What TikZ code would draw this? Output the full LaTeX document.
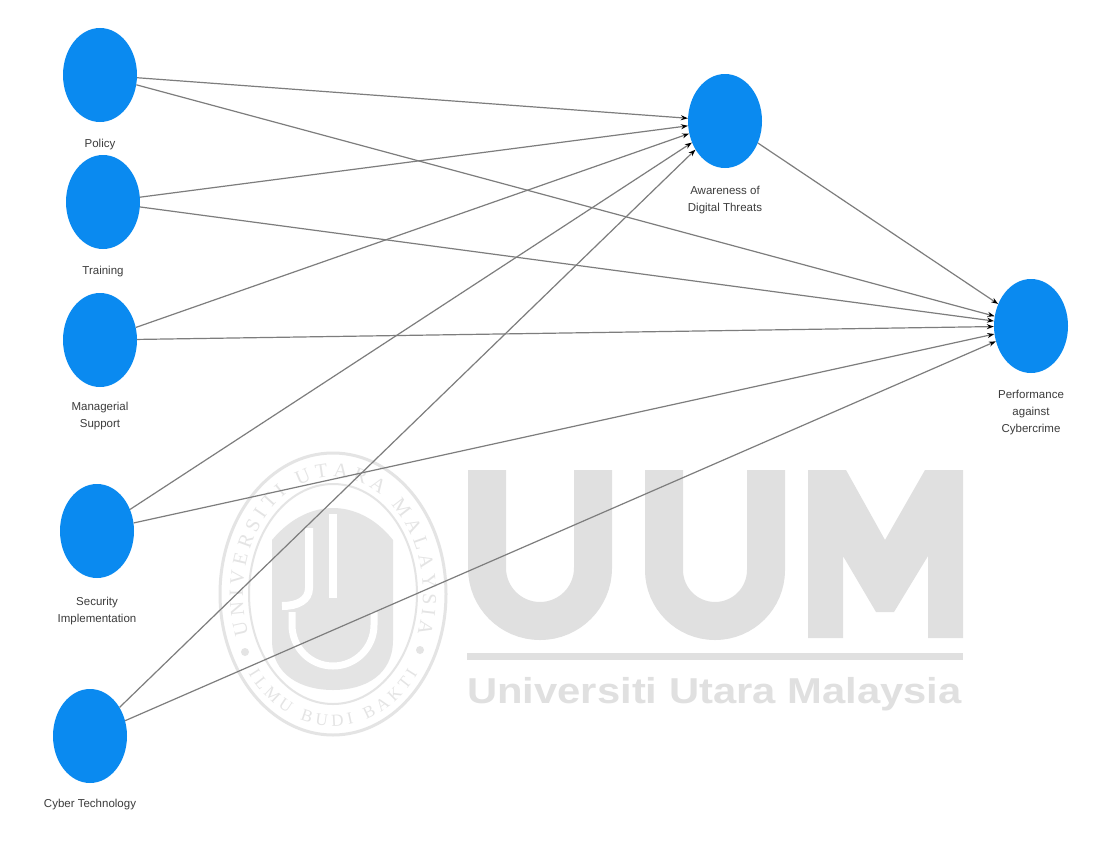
\documentclass[tikz,border=0pt]{standalone}
\usepackage{fontspec}
\setmainfont{Liberation Sans}
\newfontfamily\sealfont{Liberation Serif}
\usetikzlibrary{positioning,shapes.geometric,arrows.meta,decorations.text}
\definecolor{plsblue}{RGB}{10,138,240}
\definecolor{linkgray}{RGB}{125,125,125}
\definecolor{wmgray}{RGB}{224,224,224}
\definecolor{sealgray}{RGB}{228,228,228}
\definecolor{lbltext}{RGB}{60,60,60}
\begin{document}
\begin{tikzpicture}[x=1pt, y=-1pt,
    construct/.style = {ellipse, fill=plsblue, minimum width=74pt, minimum height=94pt, inner sep=0pt},
    conlabel/.style = {font=\fontsize{11.5}{17}\selectfont, text=lbltext, align=center, inner sep=1pt},
    link/.style = {draw=linkgray, line width=1.2pt, -{Stealth[color=black, length=7pt, width=5pt]}}]
                \useasboundingbox[fill=white] (0,0) rectangle (1115,843);
                \draw[sealgray, line width=3pt] (333,594) ellipse[x radius=113, y radius=141];
                \draw[sealgray, line width=2pt] (333,594) ellipse[x radius=84, y radius=110];
                \path[decorate, decoration={text along path, text align={fit to path},
                    text={|\sealfont\fontsize{20}{20}\selectfont\color{sealgray}|UNIVERSITI UTARA MALAYSIA}}]
                    (333,594) ++(-200:90 and 117) arc[start angle=-200, end angle=20, x radius=90, y radius=117];
                \path[decorate, decoration={text along path, text align={fit to path},
                    text={|\sealfont\fontsize{17}{17}\selectfont\color{sealgray}|ILMU BUDI BAKTI}}]
                    (333,594) ++(143:106 and 132) arc[start angle=143, end angle=37, x radius=106, y radius=132];
                \fill[sealgray] (245,652) circle[radius=4pt] (420,650) circle[radius=4pt];
                \fill[sealgray] (272,540) .. controls (292,516) and (315,508) .. (333,508) .. controls (351,508) and (374,516) .. (393,540)
                    -- (393,640) .. controls (393,675) and (365,690) .. (333,690) .. controls (301,690) and (272,675) .. (272,640) -- cycle;
                \draw[white, line width=8pt] (333,514) -- (333,598);
                \draw[white, line width=8pt] (309,528) -- (309,588) .. controls (309,600) and (298,606) .. (282,606);
                \draw[white, line width=7pt] (292,612) -- (292,625) arc[start angle=180, end angle=0, radius=41] -- (374,612);
                \draw[wmgray, line width=38pt] (487,470) -- (487,568) arc[start angle=180, end angle=0, radius=53] -- (593,470);
                \draw[wmgray, line width=38pt] (664,470) -- (664,570) arc[start angle=180, end angle=0, radius=51] -- (766,470);
                \fill[wmgray] (808,638) -- (808,470) -- (846,470) -- (885,540) -- (925,470) -- (963,470) -- (963,638) -- (928,638)
                    -- (928,556) -- (894,612) -- (876,612) -- (843,556) -- (843,638) -- cycle;
                \fill[wmgray] (467,653) rectangle (963,660);
                \node[font=\bfseries\fontsize{36}{36}\selectfont, text=wmgray, xscale=1.16, anchor=base west, inner sep=0pt] (wmname) at (467,703) {Universiti Utara Malaysia};

                \node[construct] (policy) at (100,75) {};
                \node[construct] (training) at (103,202) {};
                \node[construct] (managerial) at (100,340) {};
                \node[construct] (security) at (97,531) {};
                \node[construct] (cyber) at (90,736) {};
                \node[construct] (awareness) at (725,121) {};
                \node[construct] (performance) at (1031,326) {};
                \node[conlabel, below=16pt of policy] (policylbl) {Policy};
                \node[conlabel, below=16pt of training] (traininglbl) {Training};
                \node[conlabel, below=14pt of managerial] (manageriallbl) {Managerial\\Support};
                \node[conlabel, below=18pt of security] (securitylbl) {Security\\Implementation};
                \node[conlabel, below=15pt of cyber] (cyberlbl) {Cyber Technology};
                \node[conlabel, below=17pt of awareness] (awarenesslbl) {Awareness of\\Digital Threats};
                \node[conlabel, below=16pt of performance] (performancelbl) {Performance\\against\\Cybercrime};

                \foreach \src in {policy, training, managerial, security, cyber} {
                    \draw[link] (\src) -- (awareness);
                    \draw[link] (\src) -- (performance);
                }
                \draw[link] (awareness) -- (performance);
            \end{tikzpicture}
\end{document}
